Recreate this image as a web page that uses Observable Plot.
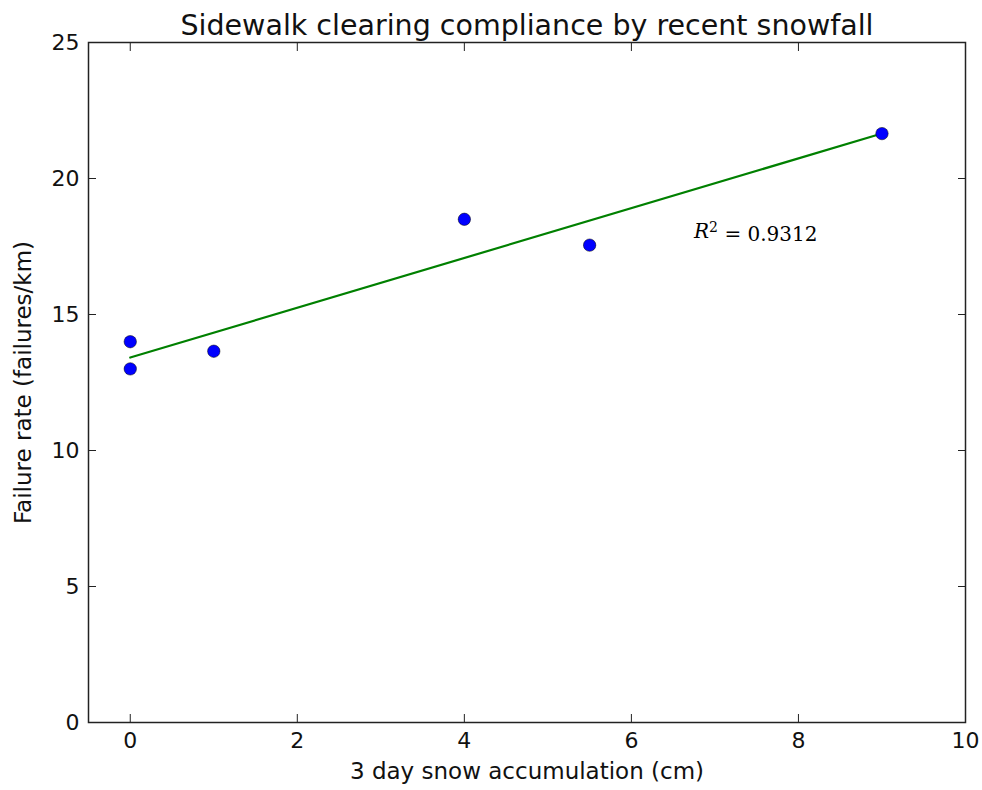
<!DOCTYPE html>
<html>
<head>
<meta charset="utf-8">
<script src="https://cdn.jsdelivr.net/npm/d3@7"></script>
<script src="https://cdn.jsdelivr.net/npm/@observablehq/plot@0.6"></script>
<style>
  html, body { margin: 0; padding: 0; background: #fff; }
  svg { display: block; }
</style>
</head>
<body>
<div id="chart"></div>
<script>
const snow = [0, 0, 1, 4, 5.5, 9];
const failureRate = [14.0, 13.0, 13.65, 18.5, 17.55, 21.65];
const xTicks = [0, 2, 4, 6, 8, 10];
const yTicks = [0, 5, 10, 15, 20, 25];
const title = "Sidewalk clearing compliance by recent snowfall";
const xLabel = "3 day snow accumulation (cm)";
const yLabel = "Failure rate (failures/km)";
const annotation = [{x: 6.75, y: 18.05, text: "R² = 0.9312"}];

const data = snow.map((x, i) => ({x, y: failureRate[i]}));
const font = "DejaVu Sans, sans-serif";

const chart = Plot.plot({
  width: 982,
  height: 790,
  marginLeft: 88,
  marginRight: 17,
  marginTop: 42,
  marginBottom: 68,
  style: {fontFamily: font, background: "#fff", color: "#000"},
  x: {domain: [-0.5, 10]},
  y: {domain: [0, 25]},
  marks: [
    Plot.axisX(xTicks, {anchor: "bottom", tickSize: -8, tickPadding: 18, fontSize: 22, label: null, stroke: "#222", strokeWidth: 1, fill: "#111"}),
    Plot.axisX(xTicks, {anchor: "top", tickSize: -8, tickFormat: () => "", label: null, stroke: "#222", strokeWidth: 1}),
    Plot.axisY(yTicks, {anchor: "left", tickSize: -8, tickPadding: 17, fontSize: 22, label: null, stroke: "#222", strokeWidth: 1, fill: "#111"}),
    Plot.axisY(yTicks, {anchor: "right", tickSize: -8, tickFormat: () => "", label: null, stroke: "#222", strokeWidth: 1}),
    Plot.linearRegressionY(data, {x: "x", y: "y", stroke: "#008000", strokeWidth: 2.2, ci: 0}),
    Plot.dot(data, {x: "x", y: "y", r: 6.2, fill: "#0000ff", stroke: "#000", strokeWidth: 0.5}),
    Plot.text(annotation, {x: "x", y: "y", text: "text", textAnchor: "start", fontSize: 20, fontFamily: "DejaVu Serif, serif", fill: "#000", className: "r2"}),
    Plot.frame({stroke: "#222", strokeWidth: 1.5}),
    Plot.text([title], {frameAnchor: "top", dy: -28, fontSize: 28.5, fill: "#111", fontFamily: font}),
    Plot.text([xLabel], {frameAnchor: "bottom", dy: 56, fontSize: 23, fill: "#111", fontFamily: font}),
    Plot.text([yLabel], {frameAnchor: "left", dx: -65, rotate: -90, textAnchor: "middle", fontSize: 23, fill: "#111", fontFamily: font})
  ]
});
document.getElementById("chart").appendChild(chart);

// style the annotation like mathtext: italic R, upright numbers
d3.select(chart).selectAll("g.r2 text").each(function() {
  const t = d3.select(this);
  const s = t.text();
  t.text("");
  t.append("tspan").attr("font-style", "italic").text("R");
  t.append("tspan").attr("dy", "-0.45em").attr("font-size", "14").text("2");
  t.append("tspan").attr("dy", "0.45em").text(" = " + s.split("= ")[1]);
});
</script>
</body>
</html>
